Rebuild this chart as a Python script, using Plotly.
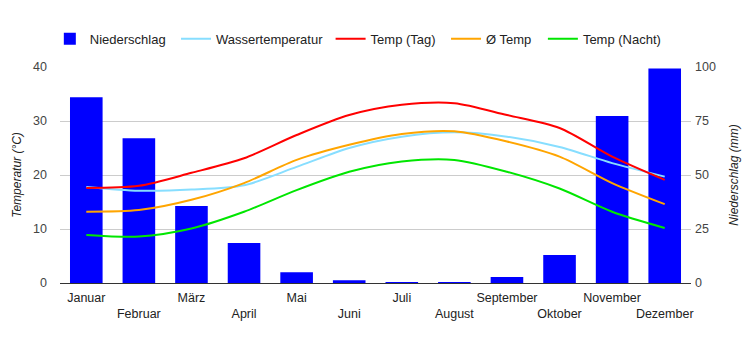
import plotly.graph_objects as go

months = ["Januar", "Februar", "März", "April", "Mai", "Juni", "Juli", "August",
          "September", "Oktober", "November", "Dezember"]
niederschlag = [86, 67, 35.6, 18.5, 5, 1.3, 0.2, 0.2, 2.8, 13, 77.3, 99.3]
wassertemp = [17.8, 17.1, 17.3, 18.1, 21.5, 25.0, 27.1, 27.9, 27.1, 25.2, 22.2, 19.7]
temp_tag = [17.6, 18.0, 20.4, 23.1, 27.4, 31.1, 33.0, 33.3, 31.1, 28.7, 23.4, 19.1]
temp_avg = [13.2, 13.5, 15.4, 18.5, 22.8, 25.6, 27.6, 28.1, 26.2, 23.4, 18.5, 14.6]
temp_nacht = [8.9, 8.6, 10.1, 13.2, 17.2, 20.6, 22.5, 22.8, 20.6, 17.5, 13.2, 10.2]

ticktext = [m if i % 2 == 0 else "<br>" + m for i, m in enumerate(months)]

L, R = 60, 45
PW = 750 - L - R
legend_text_px = [91, 220, 378, 496, 595]
legend_names = ["legend", "legend2", "legend3", "legend4", "legend5"]

fig = go.Figure()
fig.add_trace(go.Bar(x=months, y=niederschlag, name="Niederschlag",
                     marker=dict(color="#0000FF", line=dict(width=0)), yaxis="y",
                     legend="legend"))
line_specs = [
    ("Wassertemperatur", wassertemp, "#87DEFF"),
    ("Temp (Tag)", temp_tag, "#FF0000"),
    ("Ø Temp", temp_avg, "#FFA500"),
    ("Temp (Nacht)", temp_nacht, "#00E600"),
]
for k, (name, vals, col) in enumerate(line_specs):
    fig.add_trace(go.Scatter(x=months, y=vals, name=name, mode="lines",
                             line=dict(color=col, width=2, shape="spline", smoothing=0.8),
                             yaxis="y2", legend=legend_names[k + 1]))

legend_layout = {}
for name, tx in zip(legend_names, legend_text_px):
    legend_layout[name] = dict(orientation="h", x=(tx - 41.4 - L) / PW, xref="paper",
                               y=1.2, yref="paper", yanchor="top", xanchor="left",
                               font=dict(size=13, color="#222"), itemwidth=30,
                               bgcolor="rgba(0,0,0,0)")

fig.update_layout(
    width=750, height=350,
    margin=dict(l=L, r=R, t=67, b=67),
    paper_bgcolor="white", plot_bgcolor="white",
    font=dict(family="Liberation Sans, Arial", size=12, color="#222"),
    bargap=0.38,
    showlegend=True,
    xaxis=dict(tickmode="array", tickvals=months, ticktext=ticktext, tickangle=0,
               showgrid=False, showline=True, linecolor="#333", linewidth=1,
               tickfont=dict(size=12.5, color="#222"), ticks="", ticklabelstandoff=3),
    yaxis=dict(range=[0, 100], tickvals=[0, 25, 50, 75, 100], side="right",
               showgrid=True, gridcolor="#CCCCCC", zeroline=False,
               ticks="", ticklabelstandoff=3,
               tickfont=dict(size=12.5, color="#444"),
               title=dict(text="<i>Niederschlag (mm)</i>", font=dict(size=12, color="#222"), standoff=14)),
    yaxis2=dict(range=[0, 40], tickvals=[0, 10, 20, 30, 40], side="left", overlaying="y",
                showgrid=False, zeroline=False, ticks="", ticklabelstandoff=12,
                tickfont=dict(size=12.5, color="#444"),
                title=dict(text="<i>Temperatur (°C)</i>", font=dict(size=12, color="#222"), standoff=8)),
    **legend_layout,
)
fig.write_html("out.html")
